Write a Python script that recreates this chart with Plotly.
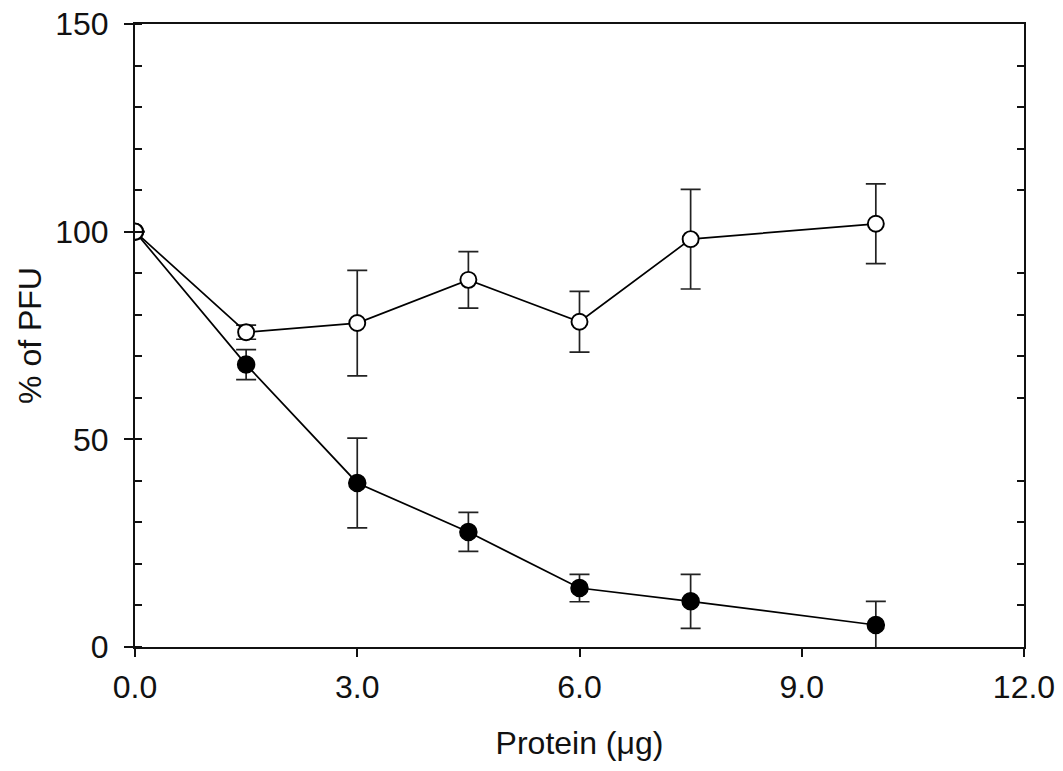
import plotly.graph_objects as go

# Data
protein_ug = [0, 1.5, 3.0, 4.5, 6.0, 7.5, 10.0]
open_pfu = [100, 75.8, 78.0, 88.4, 78.3, 98.2, 101.9]
open_err = [None, 1.7, 12.7, 6.8, 7.3, 12.0, 9.6]
filled_pfu = [100, 68.0, 39.5, 27.7, 14.2, 11.0, 5.3]
filled_err = [None, 3.6, 10.8, 4.7, 3.3, 6.5, 5.7]

y_ticks = [0, 50, 100, 150]
x_ticks = [0, 3, 6, 9, 12]
x_ticktext = ["0.0", "3.0", "6.0", "9.0", "12.0"]
right_minor = [10, 20, 30, 40, 60, 70, 80, 90, 110, 120, 130, 140]

FONT = "Liberation Sans, Arial, sans-serif"

fig = go.Figure()

fig.add_trace(go.Scatter(
    x=protein_ug, y=filled_pfu, mode="lines+markers",
    line=dict(color="black", width=1.7),
    marker=dict(symbol="circle", size=17, color="black",
                line=dict(color="black", width=1.5)),
    error_y=dict(type="data", array=filled_err, visible=True,
                 color="#222", thickness=1.7, width=10),
    showlegend=False,
))

fig.add_trace(go.Scatter(
    x=protein_ug, y=open_pfu, mode="lines+markers",
    line=dict(color="black", width=1.7),
    marker=dict(symbol="circle", size=16, color="white",
                line=dict(color="black", width=1.9)),
    error_y=dict(type="data", array=open_err, visible=True,
                 color="#222", thickness=1.7, width=10),
    showlegend=False,
))

# invisible helper trace so the right-hand axis is drawn
fig.add_trace(go.Scatter(
    x=protein_ug, y=open_pfu, yaxis="y2", mode="markers",
    marker=dict(opacity=0), hoverinfo="skip", showlegend=False,
))

fig.update_layout(
    width=1063, height=771,
    margin=dict(l=135, r=39, t=24, b=124),
    paper_bgcolor="white", plot_bgcolor="white",
    font=dict(family=FONT, size=32, color="#111"),
    xaxis=dict(
        range=[0, 12], tickvals=x_ticks, ticktext=x_ticktext,
        ticks="outside", ticklen=8, tickwidth=2, tickcolor="#111",
        showline=True, linewidth=2, linecolor="#111", mirror=True,
        showgrid=False, zeroline=False, automargin=False,
        tickfont=dict(size=32), ticklabelstandoff=3,
        title=dict(text="Protein (\u03bcg)", font=dict(size=32), standoff=27),
    ),
    yaxis=dict(
        range=[0, 150], tickvals=y_ticks,
        ticks="outside", ticklen=9, tickwidth=2, tickcolor="#111",
        minor=dict(ticks="inside", dtick=10, ticklen=7, tickwidth=1.5, tickcolor="#111"),
        showline=True, linewidth=2, linecolor="#111", mirror=True,
        showgrid=False, zeroline=False, automargin=False,
        tickfont=dict(size=32), ticklabelstandoff=9,
        title=dict(text="% of PFU", font=dict(size=32), standoff=4),
    ),
    yaxis2=dict(
        range=[0, 150], overlaying="y", side="right",
        tickvals=right_minor, ticks="inside", ticklen=7, tickwidth=1.5,
        tickcolor="#111", showticklabels=False, showline=False,
        showgrid=False, zeroline=False, automargin=False,
    ),
)

fig.write_html(
    "out.html",
    config={"displayModeBar": False},
    post_script="document.body.style.margin='0';document.body.style.overflow='hidden';",
)
